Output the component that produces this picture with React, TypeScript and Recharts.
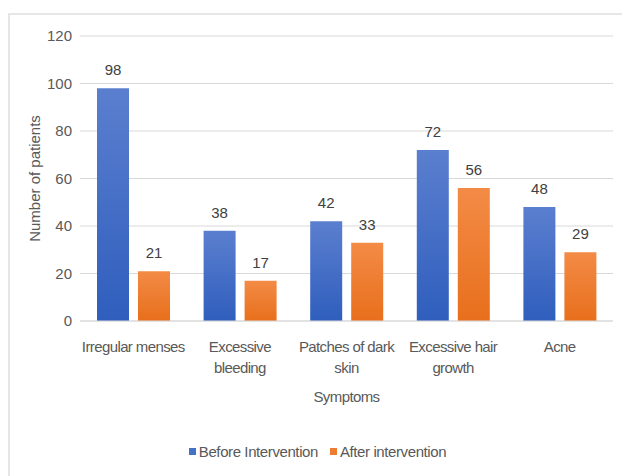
import React from 'react';
import {
  BarChart,
  Bar,
  XAxis,
  YAxis,
  CartesianGrid,
  Legend,
  LabelList,
} from 'recharts';

const symptoms = [
  'Irregular menses',
  'Excessive\nbleeding',
  'Patches of dark\nskin',
  'Excessive hair\ngrowth',
  'Acne',
];
const beforeValues = [98, 38, 42, 72, 48];
const afterValues = [21, 17, 33, 56, 29];
const yTicks = [0, 20, 40, 60, 80, 100, 120];

const FONT = "'Liberation Sans Narrow', 'Liberation Sans', Arial, sans-serif";
const TEXT = '#595959';

const data = symptoms.map((s, i) => ({
  symptom: s,
  before: beforeValues[i],
  after: afterValues[i],
}));

const SymptomTick = (props: any) => {
  const { x, y, payload } = props;
  const lines = String(payload.value).split('\n');
  return (
    <text x={x} y={y} textAnchor="middle" fill={TEXT} fontSize={15} fontFamily={FONT} letterSpacing={-0.6}>
      {lines.map((line, i) => (
        <tspan key={i} x={x} dy={i === 0 ? 23 : 21}>
          {line}
        </tspan>
      ))}
    </text>
  );
};

const LegendContent = () => (
  <div
    style={{
      display: 'flex',
      justifyContent: 'center',
      alignItems: 'center',
      height: 30,
      fontFamily: FONT,
      fontSize: 15,
      letterSpacing: -0.4,
      color: TEXT,
      paddingLeft: 22,
    }}
  >
    <span style={{ width: 7, height: 7, background: '#4472C4', marginRight: 3 }} />
    <span style={{ marginRight: 12 }}>Before Intervention</span>
    <span style={{ width: 7, height: 7, background: '#ED7D31', marginRight: 3 }} />
    <span>After intervention</span>
  </div>
);

export default function App() {
  return (
    <div style={{ position: 'absolute', left: 0, top: 0, width: 622, height: 476, background: '#fff' }}>
      <div
        style={{
          position: 'absolute',
          left: 8,
          top: 13,
          right: 0,
          bottom: 0,
          borderLeft: '2px solid #e6e6e6',
          borderTop: '2px solid #e6e6e6',
        }}
      />
      <BarChart
        width={622}
        height={476}
        data={data}
        margin={{ top: 36, right: 9, left: 0, bottom: 10 }}
        barGap={9}
        barSize={32}
        style={{ position: 'absolute', left: 0, top: 0 }}
      >
        <defs>
          <linearGradient id="gBlue" x1="0" y1="0" x2="0" y2="1">
            <stop offset="0%" stopColor="#5b7fcf" />
            <stop offset="100%" stopColor="#2f5ebd" />
          </linearGradient>
          <linearGradient id="gOrange" x1="0" y1="0" x2="0" y2="1">
            <stop offset="0%" stopColor="#f38b46" />
            <stop offset="100%" stopColor="#e86f1c" />
          </linearGradient>
        </defs>
        <CartesianGrid vertical={false} stroke="#d9d9d9" />
        <XAxis
          dataKey="symptom"
          height={115}
          tickLine={false}
          axisLine={{ stroke: '#d9d9d9' }}
          interval={0}
          tick={<SymptomTick />}
          label={{
            value: 'Symptoms',
            position: 'insideTop',
            offset: 70,
            fill: TEXT,
            fontSize: 15,
            fontFamily: FONT,
            letterSpacing: -0.6,
          }}
        />
        <YAxis
          width={80}
          domain={[0, 120]}
          ticks={yTicks}
          tickLine={false}
          axisLine={false}
          tick={{ fill: TEXT, fontSize: 15, fontFamily: FONT }}
          label={{
            value: 'Number of patients',
            angle: -90,
            position: 'insideLeft',
            offset: 35,
            style: { textAnchor: 'middle', fill: TEXT, fontSize: 15, fontFamily: FONT },
          }}
        />
        <Legend verticalAlign="bottom" content={<LegendContent />} />
        <Bar dataKey="before" name="Before Intervention" fill="url(#gBlue)" isAnimationActive={false}>
          <LabelList dataKey="before" position="top" offset={13} fill="#404040" fontSize={15} fontFamily={FONT} />
        </Bar>
        <Bar dataKey="after" name="After intervention" fill="url(#gOrange)" isAnimationActive={false}>
          <LabelList dataKey="after" position="top" offset={13} fill="#404040" fontSize={15} fontFamily={FONT} />
        </Bar>
      </BarChart>
    </div>
  );
}
